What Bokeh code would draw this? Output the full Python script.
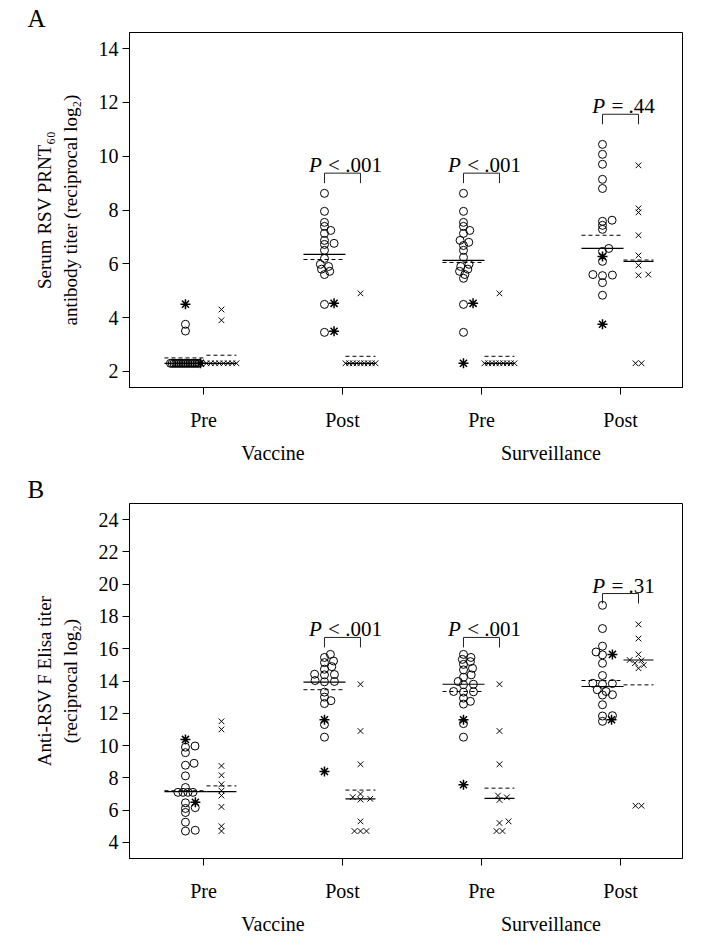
import numpy as np
from bokeh.plotting import figure
from bokeh.layouts import column
from bokeh.models import Range1d, FixedTicker, LinearAxis, Title, ColumnDataSource
from bokeh.embed import file_html
from bokeh.resources import INLINE
from bokeh.core.properties import value

FONT = "Liberation Serif"

# ---------------- data ----------------
timepoints = ["Pre", "Post", "Pre", "Post"]
arms = ["Vaccine", "Surveillance"]
arm_pos = [1.5, 3.5]

# Panel A: Serum RSV PRNT60 (reciprocal log2)
a_circ_1 = [3.75, 3.5, 2.3, 2.3, 2.3, 2.3, 2.3, 2.3, 2.3, 2.3, 2.3, 2.3, 2.3, 2.3, 2.3, 2.3, 2.3, 2.3, 2.3]
a_circ_2 = [8.62, 7.95, 7.54, 7.39, 7.24, 7.13, 6.87, 6.76, 6.72, 6.5, 6.2, 5.98, 5.9, 5.8, 5.72, 5.6, 4.49, 3.45]
a_circ_3 = [8.62, 7.95, 7.54, 7.39, 7.24, 7.13, 6.87, 6.8, 6.68, 6.5, 6.24, 5.98, 5.9, 5.8, 5.72, 5.6, 5.46, 4.49, 3.45]
a_circ_4 = [10.44, 10.07, 9.7, 9.14, 8.8, 7.62, 7.58, 7.43, 7.28, 6.57, 6.46, 6.09, 5.6, 5.58, 5.56, 5.3, 4.83]
a_star_1 = [4.5, 2.3]
a_star_2 = [4.53, 3.49]
a_star_3 = [4.53, 2.3]
a_star_4 = [6.27, 3.75]
a_cross_1 = [4.3, 3.9, 2.3, 2.3, 2.3, 2.3, 2.3, 2.3, 2.3, 2.3]
a_cross_2 = [4.9, 2.3, 2.3, 2.3, 2.3, 2.3, 2.3, 2.3, 2.3, 2.3]
a_cross_3 = [4.9, 2.3, 2.3, 2.3, 2.3, 2.3, 2.3, 2.3, 2.3, 2.3]
a_cross_4 = [9.66, 8.06, 7.91, 7.06, 6.31, 5.94, 5.6, 5.57, 2.3, 2.3]
a_median_circ = [2.3, 6.35, 6.13, 6.57]
a_mean_circ = [2.5, 6.16, 6.05, 7.06]
a_median_cross = [2.3, 2.3, 2.3, 6.09]
a_mean_cross = [2.6, 2.56, 2.56, 6.14]
a_p_group = [2, 3, 4]
a_p_text = ["< .001", "< .001", "= .44"]
a_bracket = [9.37, 9.37, 11.56]

# Panel B: Anti-RSV F Elisa titer (reciprocal log2)
b_circ_1 = [9.97, 9.9, 9.56, 8.9, 8.78, 8.12, 7.4, 7.1, 7.1, 7.1, 7.1, 6.45, 6.15, 6.1, 5.85, 5.25, 4.75, 4.7]
b_circ_2 = [15.65, 15.46, 15.24, 15.14, 14.89, 14.73, 14.4, 14.38, 14.42, 14.03, 13.97, 13.95, 13.31, 13.0, 12.78, 12.6, 11.3, 10.52]
b_circ_3 = [15.65, 15.46, 15.34, 15.2, 15.03, 14.79, 14.69, 14.38, 14.23, 13.97, 13.8, 13.77, 13.35, 13.33, 13.31, 12.94, 12.74, 12.57, 11.36, 10.52]
b_circ_4 = [18.69, 17.25, 16.16, 15.8, 15.62, 15.1, 14.34, 13.86, 13.8, 13.84, 13.46, 13.35, 13.15, 13.13, 12.53, 11.85, 11.83, 11.5]
b_star_1 = [10.38, 6.48]
b_star_2 = [11.6, 8.39]
b_star_3 = [11.6, 7.57]
b_star_4 = [15.65, 11.6]
b_cross_1 = [11.5, 11.0, 8.74, 8.16, 7.6, 7.2, 6.9, 6.2, 5.0, 4.7]
b_cross_2 = [13.8, 10.9, 8.84, 7.0, 6.8, 6.7, 6.65, 5.3, 4.7, 4.7, 4.7]
b_cross_3 = [13.8, 10.9, 8.84, 6.9, 6.79, 6.63, 5.3, 5.2, 4.7, 4.7]
b_cross_4 = [17.51, 16.63, 15.65, 15.3, 15.28, 15.1, 14.99, 14.79, 6.27, 6.27]
b_median_circ = [7.14, 13.93, 13.8, 13.66]
b_mean_circ = [7.2, 13.46, 13.35, 14.03]
b_median_cross = [7.14, 6.69, 6.72, 15.3]
b_mean_cross = [7.5, 7.24, 7.36, 13.76]
b_p_group = [2, 3, 4]
b_p_text = ["< .001", "< .001", "= .31"]
b_bracket = [16.7, 16.7, 19.42]

# ---------------- layout constants ----------------
X_RANGE = (0.468, 4.446)
PX_X = 553 / (X_RANGE[1] - X_RANGE[0])
COL_OFF = 18 / PX_X
FRAME_H = 355
CIRC_HALF = 21 / PX_X
CROSS_HALF = 15 / PX_X


def swarm(vals, ppu, dx=10.0, dy=3.8, tie_step=5.0, tie_max=15.0):
    n = len(vals)
    off = [None] * n
    groups = {}
    for i, v in enumerate(vals):
        groups.setdefault(round(v, 4), []).append(i)
    placed = []
    for v, idx in groups.items():
        if len(idx) > 1:
            half = min(tie_max, (len(idx) - 1) * tie_step / 2)
            xs = np.linspace(-half, half, len(idx))
            for k, i in enumerate(idx):
                off[i] = float(xs[k])
                placed.append((off[i], v * ppu))
    order = sorted([i for i in range(n) if off[i] is None], key=lambda i: vals[i])
    for i in order:
        y = vals[i] * ppu
        forb = []
        for (px, py) in placed:
            d = abs(py - y)
            if d < dy:
                w = dx * np.sqrt(1 - (d / dy) ** 2)
                forb.append((px - w, px + w))
        cands = [0.0] + [a for a, b in forb] + [b for a, b in forb]
        cands.sort(key=lambda c: (abs(c), -c))
        for c in cands:
            if all(not (a + 1e-6 < c < b - 1e-6) for a, b in forb):
                off[i] = c
                break
        placed.append((off[i], y))
    return off


CW = {" ": 0.25, "<": 0.564, "=": 0.564, ".": 0.25}


def text_w(s, fs):
    return sum(CW.get(ch, 0.5) for ch in s) * fs


def make_panel(letter, ylab, yr, yticks, circs, stars, crosses,
               med_c, mean_c, med_x, mean_x, p_group, p_text, bracket,
               height, top_b, bottom_b):
    ppu = FRAME_H / (yr[1] - yr[0])
    p = figure(width=686, height=height, x_range=Range1d(*X_RANGE), y_range=Range1d(*yr),
               output_backend="svg", toolbar_location=None,
               min_border_left=129, min_border_right=4,
               min_border_top=top_b, min_border_bottom=bottom_b)
    p.title = Title(text=letter, align="left", offset=-102, standoff=2,
                    text_font=FONT, text_font_size="25px", text_font_style="normal",
                    text_color="black")
    p.grid.visible = False
    p.outline_line_color = "black"
    p.outline_line_width = 1
    p.background_fill_color = "white"
    p.border_fill_color = "white"

    # y axis
    ya = p.yaxis[0]
    ya.ticker = FixedTicker(ticks=yticks)
    ya.major_label_text_font = FONT
    ya.major_label_text_font_size = "20px"
    ya.major_label_text_color = "black"
    ya.major_tick_out = 7
    ya.major_tick_in = 0
    ya.minor_tick_out = 0
    ya.minor_tick_in = 0
    ya.major_label_standoff = 4
    ya.axis_line_color = "black"
    ya.axis_label = ylab
    ya.axis_label_text_font = FONT
    ya.axis_label_text_font_size = "19px"
    ya.axis_label_text_font_style = "normal"
    ya.axis_label_text_color = "black"
    ya.axis_label_standoff = 15

    # x axis (time points)
    xa = p.xaxis[0]
    xa.ticker = FixedTicker(ticks=[1, 2, 3, 4])
    xa.major_label_overrides = {i + 1: t for i, t in enumerate(timepoints)}
    xa.major_label_text_font = FONT
    xa.major_label_text_font_size = "20px"
    xa.major_label_text_color = "black"
    xa.major_tick_out = 7
    xa.major_tick_in = 0
    xa.minor_tick_out = 0
    xa.minor_tick_in = 0
    xa.major_label_standoff = 14
    xa.axis_line_color = "black"

    ax2 = LinearAxis(ticker=FixedTicker(ticks=arm_pos),
                     major_label_overrides={arm_pos[i]: arms[i] for i in range(2)},
                     major_tick_out=0, major_tick_in=0, minor_tick_out=0, minor_tick_in=0,
                     axis_line_color=None, major_label_standoff=8,
                     major_label_text_font=FONT, major_label_text_font_size="20px",
                     major_label_text_color="black")
    p.add_layout(ax2, "below")

    # points
    for g in range(4):
        cat = g + 1
        cvals = list(circs[g]) + list(stars[g])
        offs = swarm(cvals, ppu)
        nc = len(circs[g])
        cx = [cat - COL_OFF + o / PX_X for o in offs]
        p.scatter(cx[:nc], circs[g], marker="circle", size=8, fill_color=None,
                  line_color="black", line_width=1)
        p.scatter(cx[nc:], stars[g], marker="asterisk", size=10,
                  line_color="black", line_width=1.5)
        xoffs = swarm(list(crosses[g]), ppu, tie_step=6.0)
        xx = [cat + COL_OFF + o / PX_X for o in xoffs]
        p.scatter(xx, crosses[g], marker="x", size=8, line_color="black", line_width=1)

    cats = np.arange(1, 5)
    p.segment(x0=cats - COL_OFF - CIRC_HALF, x1=cats - COL_OFF + CIRC_HALF,
              y0=med_c, y1=med_c, line_color="black", line_width=1.2)
    p.segment(x0=cats - COL_OFF - CIRC_HALF, x1=cats - COL_OFF + CIRC_HALF,
              y0=mean_c, y1=mean_c, line_color="black", line_width=1, line_dash="4 3")
    p.segment(x0=cats + COL_OFF - CROSS_HALF, x1=cats + COL_OFF + CROSS_HALF,
              y0=med_x, y1=med_x, line_color="black", line_width=1.2)
    p.segment(x0=cats + COL_OFF - CROSS_HALF, x1=cats + COL_OFF + CROSS_HALF,
              y0=mean_x, y1=mean_x, line_color="black", line_width=1, line_dash="4 3")

    # brackets and P values
    leg = 10 / ppu
    xs, ys = [], []
    for g, top in zip(p_group, bracket):
        xs.append([g - COL_OFF, g - COL_OFF, g + COL_OFF, g + COL_OFF])
        ys.append([top - leg, top, top, top - leg])
    p.multi_line(xs, ys, line_color="#222222", line_width=1)

    fs = 21
    pw = 0.611 * fs
    sp = 0.3 * fs
    tot = [pw + sp + text_w(t, fs) for t in p_text]
    src = ColumnDataSource(dict(
        x=[float(g) for g in p_group], y=bracket,
        ptxt=["P"] * len(p_group), rest=list(p_text),
        off_p=[-w / 2 + 3 for w in tot], off_r=[-w / 2 + 3 + pw + sp for w in tot]))
    p.text(x="x", y="y", text="ptxt", source=src, x_offset="off_p", y_offset=-8,
           text_font=value(FONT), text_font_style="italic", text_font_size="21px",
           text_align="left", text_baseline="alphabetic", text_color="black")
    p.text(x="x", y="y", text="rest", source=src, x_offset="off_r", y_offset=-8,
           text_font=value(FONT), text_font_size="21px",
           text_align="left", text_baseline="alphabetic", text_color="black")
    return p


pA = make_panel("A", "Serum RSV PRNT\u2086\u2080\nantibody titer (reciprocal log\u2082)",
                (1.4, 14.6), [2, 4, 6, 8, 10, 12, 14],
                [a_circ_1, a_circ_2, a_circ_3, a_circ_4],
                [a_star_1, a_star_2, a_star_3, a_star_4],
                [a_cross_1, a_cross_2, a_cross_3, a_cross_4],
                a_median_circ, a_mean_circ, a_median_cross, a_mean_cross,
                a_p_group, a_p_text, a_bracket, 467, 32, 80)
pB = make_panel("B", "Anti-RSV F Elisa titer\n(reciprocal log\u2082)",
                (3.0, 25.0), [4, 6, 8, 10, 12, 14, 16, 18, 20, 22, 24],
                [b_circ_1, b_circ_2, b_circ_3, b_circ_4],
                [b_star_1, b_star_2, b_star_3, b_star_4],
                [b_cross_1, b_cross_2, b_cross_3, b_cross_4],
                b_median_circ, b_mean_circ, b_median_cross, b_mean_cross,
                b_p_group, b_p_text, b_bracket, 471, 36, 80)

layout = column(pA, pB)
open("out.html", "w").write(file_html(layout, INLINE))
